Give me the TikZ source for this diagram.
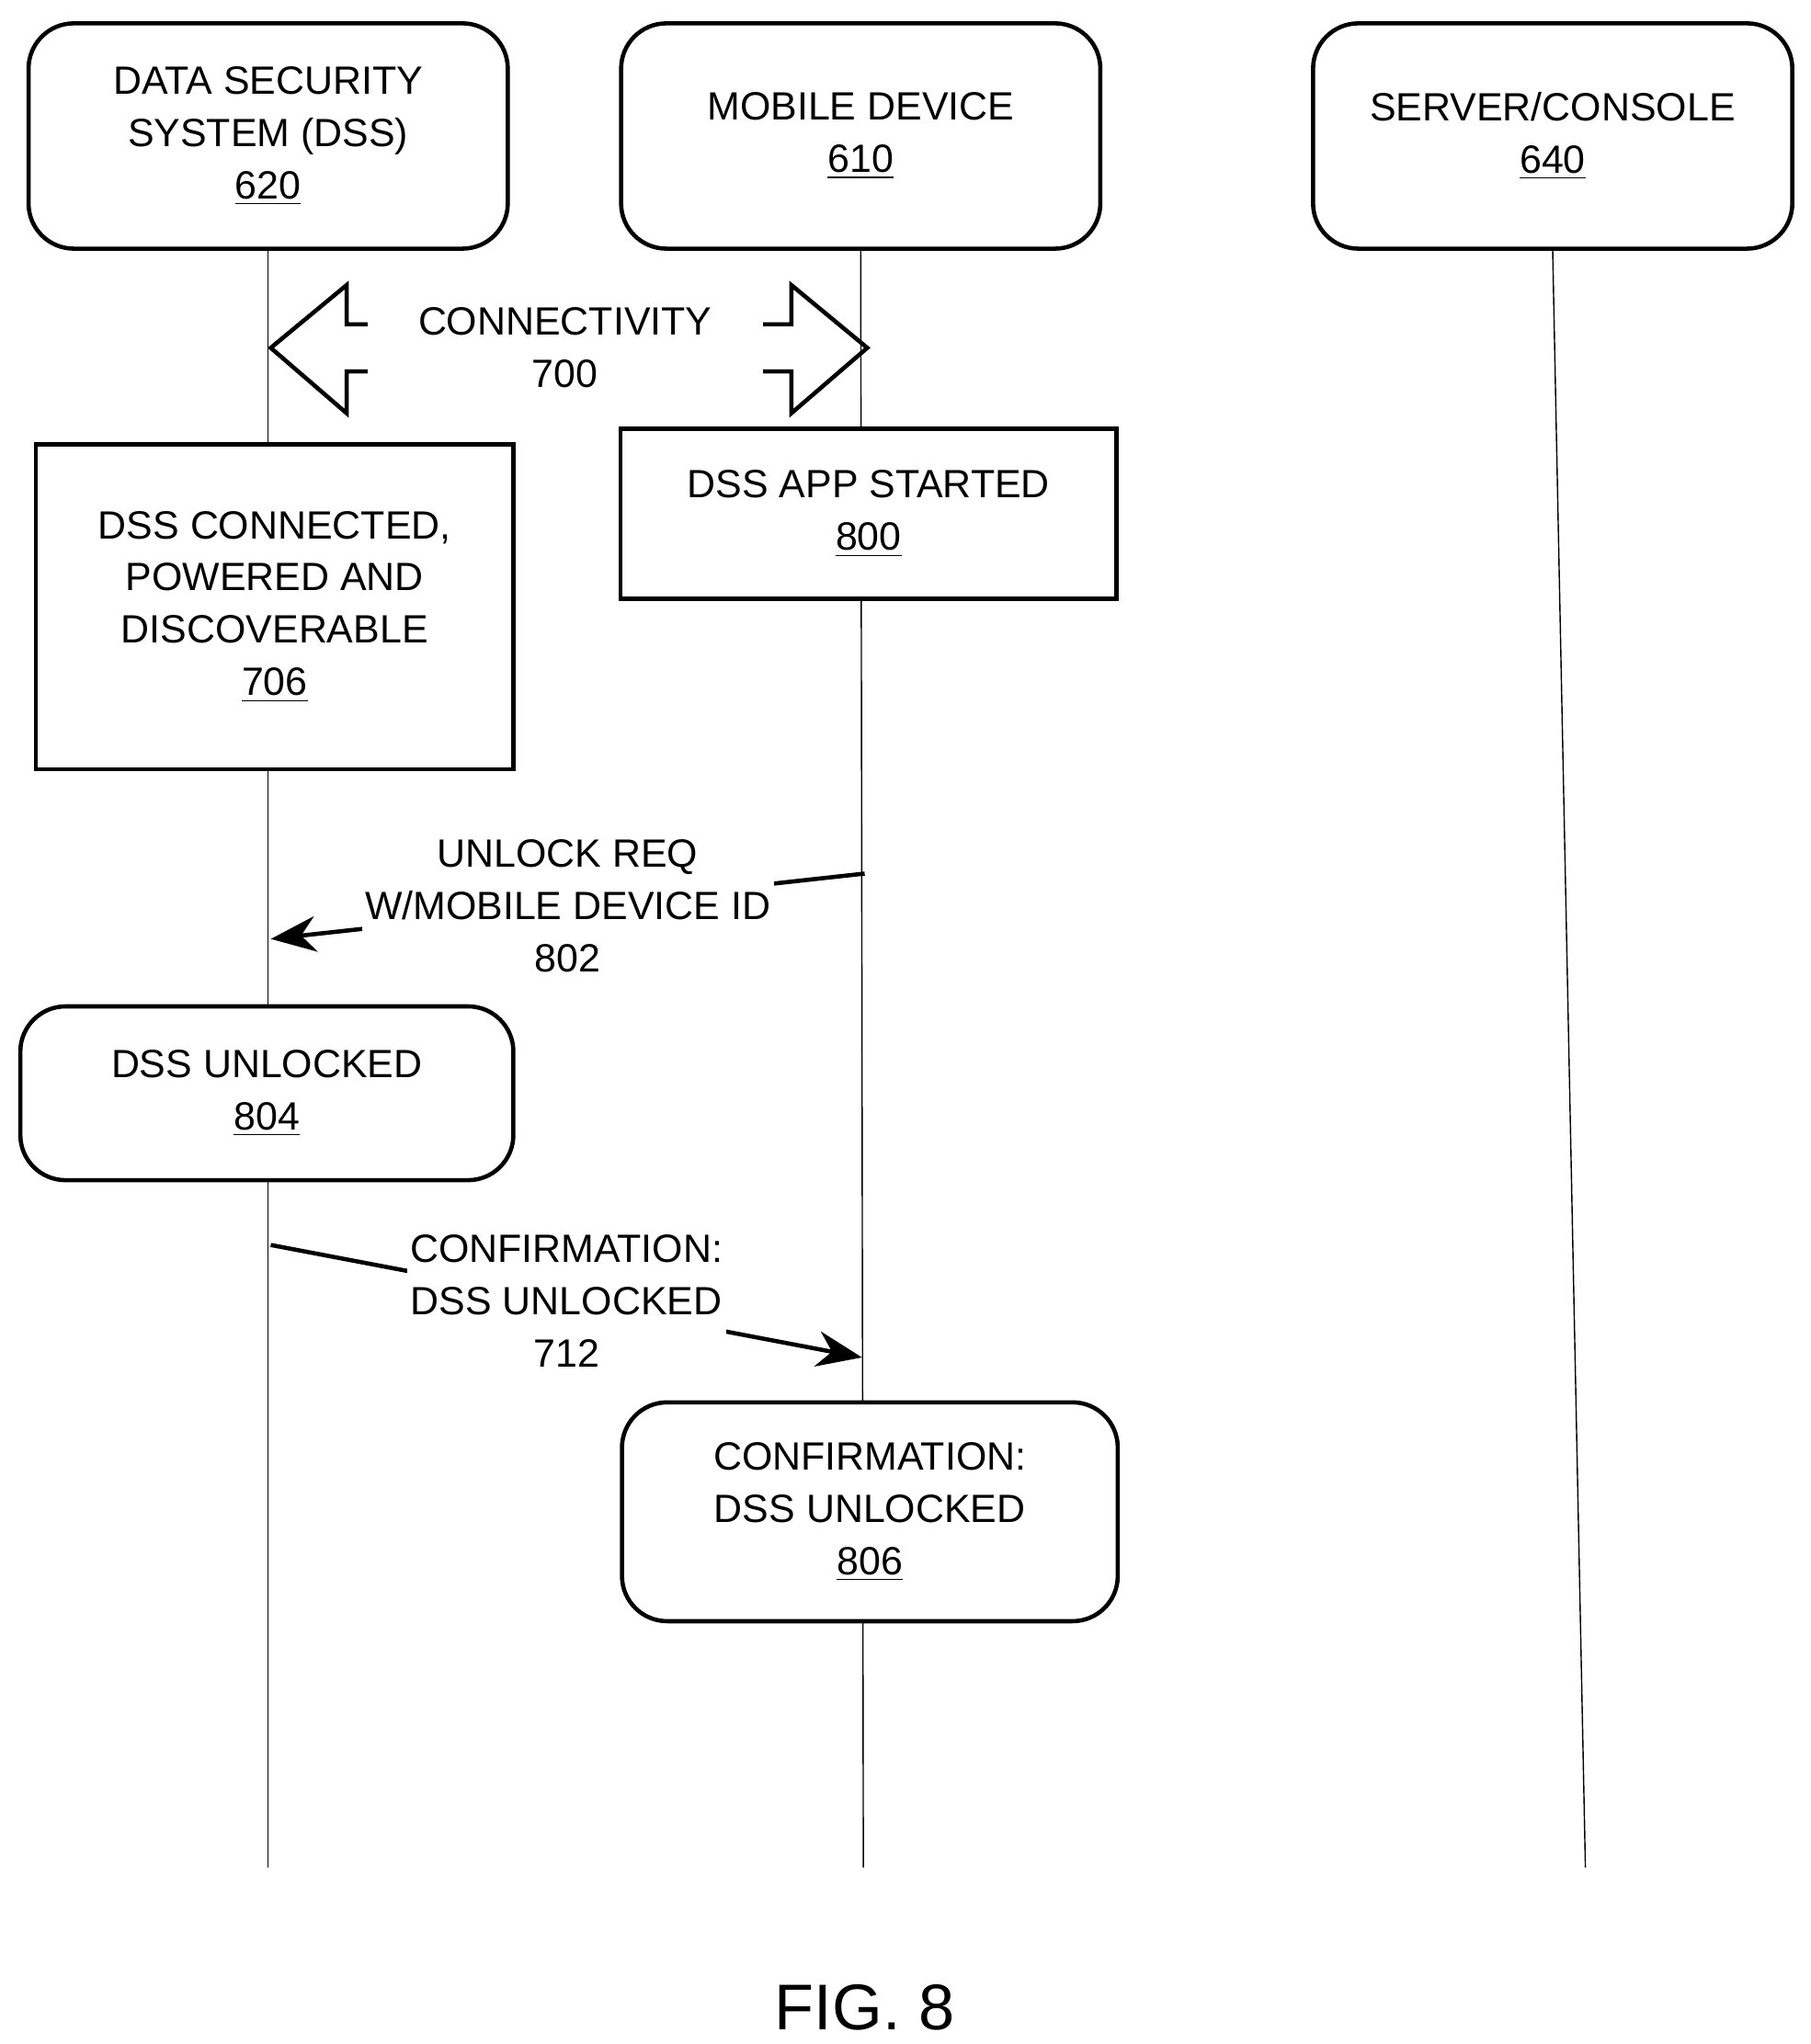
\documentclass[tikz,border=0pt]{standalone}
\usepackage{fontspec}
\setmainfont{Liberation Sans}
\usetikzlibrary{arrows.meta,backgrounds}
\tikzset{
every picture/.style={
line width=1.3pt
}}
\begin{document}
\begin{tikzpicture}[x=0.014227cm, y=-0.014227cm,
actor/.style = {rectangle, rounded corners=14pt, draw=black, fill=white, align=center, font=\fontsize{12.2}{16.2}\selectfont, minimum width=5.21cm, minimum height=2.45cm},
action/.style = {rectangle, draw=black, fill=white, align=center, font=\fontsize{12.2}{16.2}\selectfont},
msg/.style = {fill=white, align=center, font=\fontsize{12.2}{16.2}\selectfont, inner sep=1pt}]

\useasboundingbox (0,0) rectangle (1384,1563);

\node [actor] (dss) at (205,104) {DATA SECURITY\\SYSTEM (DSS)\\\underline{620}};
\node [actor] (mob) at (658,104) {MOBILE DEVICE\\\underline{610}};
\node [actor] (srv) at (1187,104) {SERVER/CONSOLE\\\underline{640}};

\coordinate (dssend) at (205,1428);
\coordinate (mobend) at (660,1428);
\coordinate (srvend) at (1212,1428);

% connectivity double arrow
\draw (207,266) -- (265,218) -- (265,248) -- (605,248) -- (605,218) -- (663,266)
 -- (605,316) -- (605,284) -- (265,284) -- (265,316) -- cycle;
\node [msg, minimum width=4.3cm, minimum height=1.0cm] (conn) at (432,266) {CONNECTIVITY\\700};

\node [action, minimum width=5.19cm, minimum height=3.53cm] (s706) at (210,464) {DSS CONNECTED,\\POWERED AND\\DISCOVERABLE\\\underline{706}};
\node [action, minimum width=5.39cm, minimum height=1.85cm] (s800) at (664,393) {DSS APP STARTED\\\underline{800}};
\node [actor, minimum width=5.36cm, minimum height=1.89cm] (s804) at (204,836) {DSS UNLOCKED\\\underline{804}};
\node [actor, minimum width=5.39cm, minimum height=2.38cm] (s806) at (665,1156) {CONFIRMATION:\\DSS UNLOCKED\\\underline{806}};

\coordinate (req1) at (661,668);
\coordinate (req2) at (207,718);
\coordinate (cnf1) at (207,952);
\coordinate (cnf2) at (659,1038);

\draw [-{Stealth[length=14pt,width=11pt]}] (req1) -- node [msg] {UNLOCK REQ\\W/MOBILE DEVICE ID\\802} (req2);
\draw [-{Stealth[length=14pt,width=11pt]}] (cnf1) -- node [msg] {CONFIRMATION:\\DSS UNLOCKED\\712} (cnf2);

\node [font=\fontsize{20}{24}\selectfont] (fig) at (661,1535) {FIG. 8};

\begin{scope}[on background layer]
\draw (dss.south) -- (dssend);
\draw (mob.south) -- (mobend);
\draw (srv.south) -- (srvend);
\end{scope}

\end{tikzpicture}
\end{document}
